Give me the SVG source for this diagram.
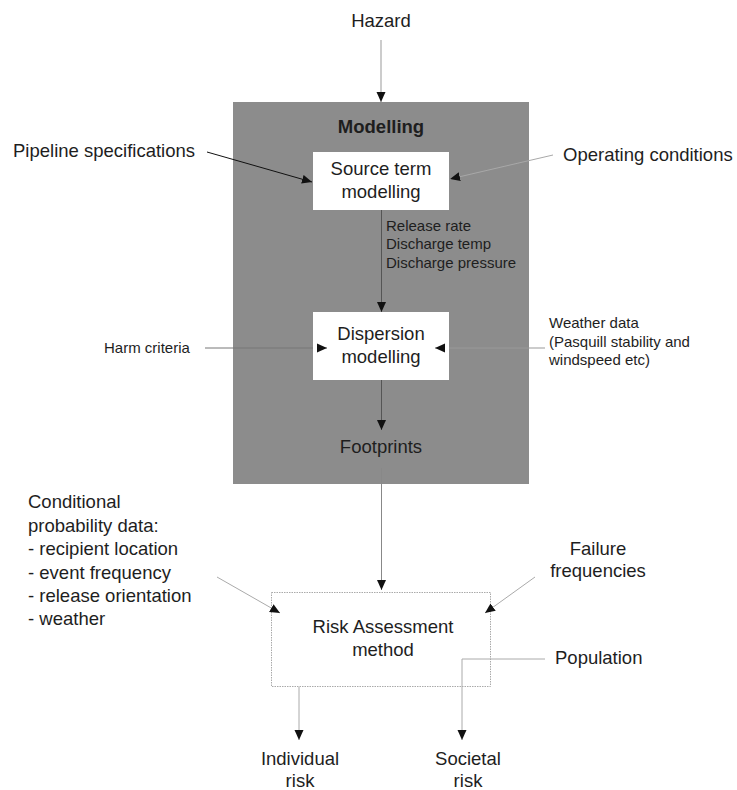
<svg xmlns="http://www.w3.org/2000/svg" width="737" height="790" viewBox="0 0 737 790">
<defs>
<marker id="ah" markerUnits="userSpaceOnUse" markerWidth="10" markerHeight="10" refX="10" refY="4.5" orient="auto" viewBox="0 0 10 9">
<path d="M0,0 L10,4.5 L0,9 z" fill="#111"/>
</marker>
</defs>
<style>
text{font-family:"Liberation Sans",Arial,sans-serif;fill:#1e1e1e}
.big{font-size:18.5px}
.sm{font-size:15px}
.mid{text-anchor:middle}
.c{fill:none;stroke-width:1;marker-end:url(#ah)}
</style>
<rect width="737" height="790" fill="#fff"/>
<g id="modelling-group">
<rect x="233" y="102" width="296" height="382" fill="#8c8c8c"/>
<text class="big mid" x="381" y="133" font-weight="bold">Modelling</text>
</g>
<g id="hazard"><text class="big mid" x="381" y="27">Hazard</text></g>
<g id="source-term">
<rect x="313" y="152" width="136" height="58" fill="#fff"/>
<text class="big mid" x="381" y="175">Source term</text>
<text class="big mid" x="381" y="198">modelling</text>
</g>
<g id="pipeline-spec"><text class="big" x="13" y="157">Pipeline specifications</text></g>
<g id="operating-conditions"><text class="big" x="563" y="161">Operating conditions</text></g>
<g id="release-outputs">
<text class="sm" x="386" y="231">Release rate</text>
<text class="sm" x="386" y="249">Discharge temp</text>
<text class="sm" x="386" y="268">Discharge pressure</text>
</g>
<g id="dispersion">
<rect x="313" y="312" width="136" height="68" fill="#fff"/>
<text class="big mid" x="381" y="340">Dispersion</text>
<text class="big mid" x="381" y="363">modelling</text>
</g>
<g id="harm-criteria"><text class="sm" x="104" y="353">Harm criteria</text></g>
<g id="weather-data">
<text class="sm" x="549" y="328">Weather data</text>
<text class="sm" x="549" y="347">(Pasquill stability and</text>
<text class="sm" x="549" y="365">windspeed etc)</text>
</g>
<g id="footprints"><text class="big mid" x="381" y="453">Footprints</text></g>
<g id="conditional-probability">
<text class="big" x="28" y="508">Conditional</text>
<text class="big" x="28" y="532">probability data:</text>
<text class="big" x="28" y="555">- recipient location</text>
<text class="big" x="28" y="579">- event frequency</text>
<text class="big" x="28" y="602">- release orientation</text>
<text class="big" x="28" y="625">- weather</text>
</g>
<g id="failure-frequencies">
<text class="big mid" x="598" y="555">Failure</text>
<text class="big mid" x="598" y="577">frequencies</text>
</g>
<g id="risk-assessment">
<rect x="271.5" y="592.5" width="219" height="94" fill="none" stroke="#aaa" stroke-dasharray="1.5,1"/>
<text class="big mid" x="383" y="633">Risk Assessment</text>
<text class="big mid" x="383" y="656">method</text>
</g>
<g id="population"><text class="big" x="555" y="664">Population</text></g>
<g id="individual-risk">
<text class="big mid" x="300" y="765">Individual</text>
<text class="big mid" x="300" y="787">risk</text>
</g>
<g id="societal-risk">
<text class="big mid" x="468" y="765">Societal</text>
<text class="big mid" x="468" y="787">risk</text>
</g>
<g id="connectors">
<path class="c" d="M381,40 V102" stroke="#999"/>
<path class="c" d="M207,152 L312,182" stroke="#111" stroke-width="1.5"/>
<path class="c" d="M553,155 L450,179" stroke="#a8a8a8"/>
<path class="c" d="M381.5,210 V312" stroke="#555"/>
<path class="c" d="M205,348 H313 M318,348 H327" stroke="#777"/>
<path class="c" d="M545,348 H449 M444,348 H435" stroke="#999"/>
<path class="c" d="M381.5,380 V430" stroke="#555"/>
<path class="c" d="M381.5,468 V590" stroke="#888"/>
<path class="c" d="M217,577 L280,613" stroke="#aaa"/>
<path class="c" d="M535,577 L485,613" stroke="#aaa"/>
<path class="c" d="M299,687 V740" stroke="#aaa"/>
<path class="c" d="M545,659 H462 V740" stroke="#aaa"/>
</g>
</svg>
